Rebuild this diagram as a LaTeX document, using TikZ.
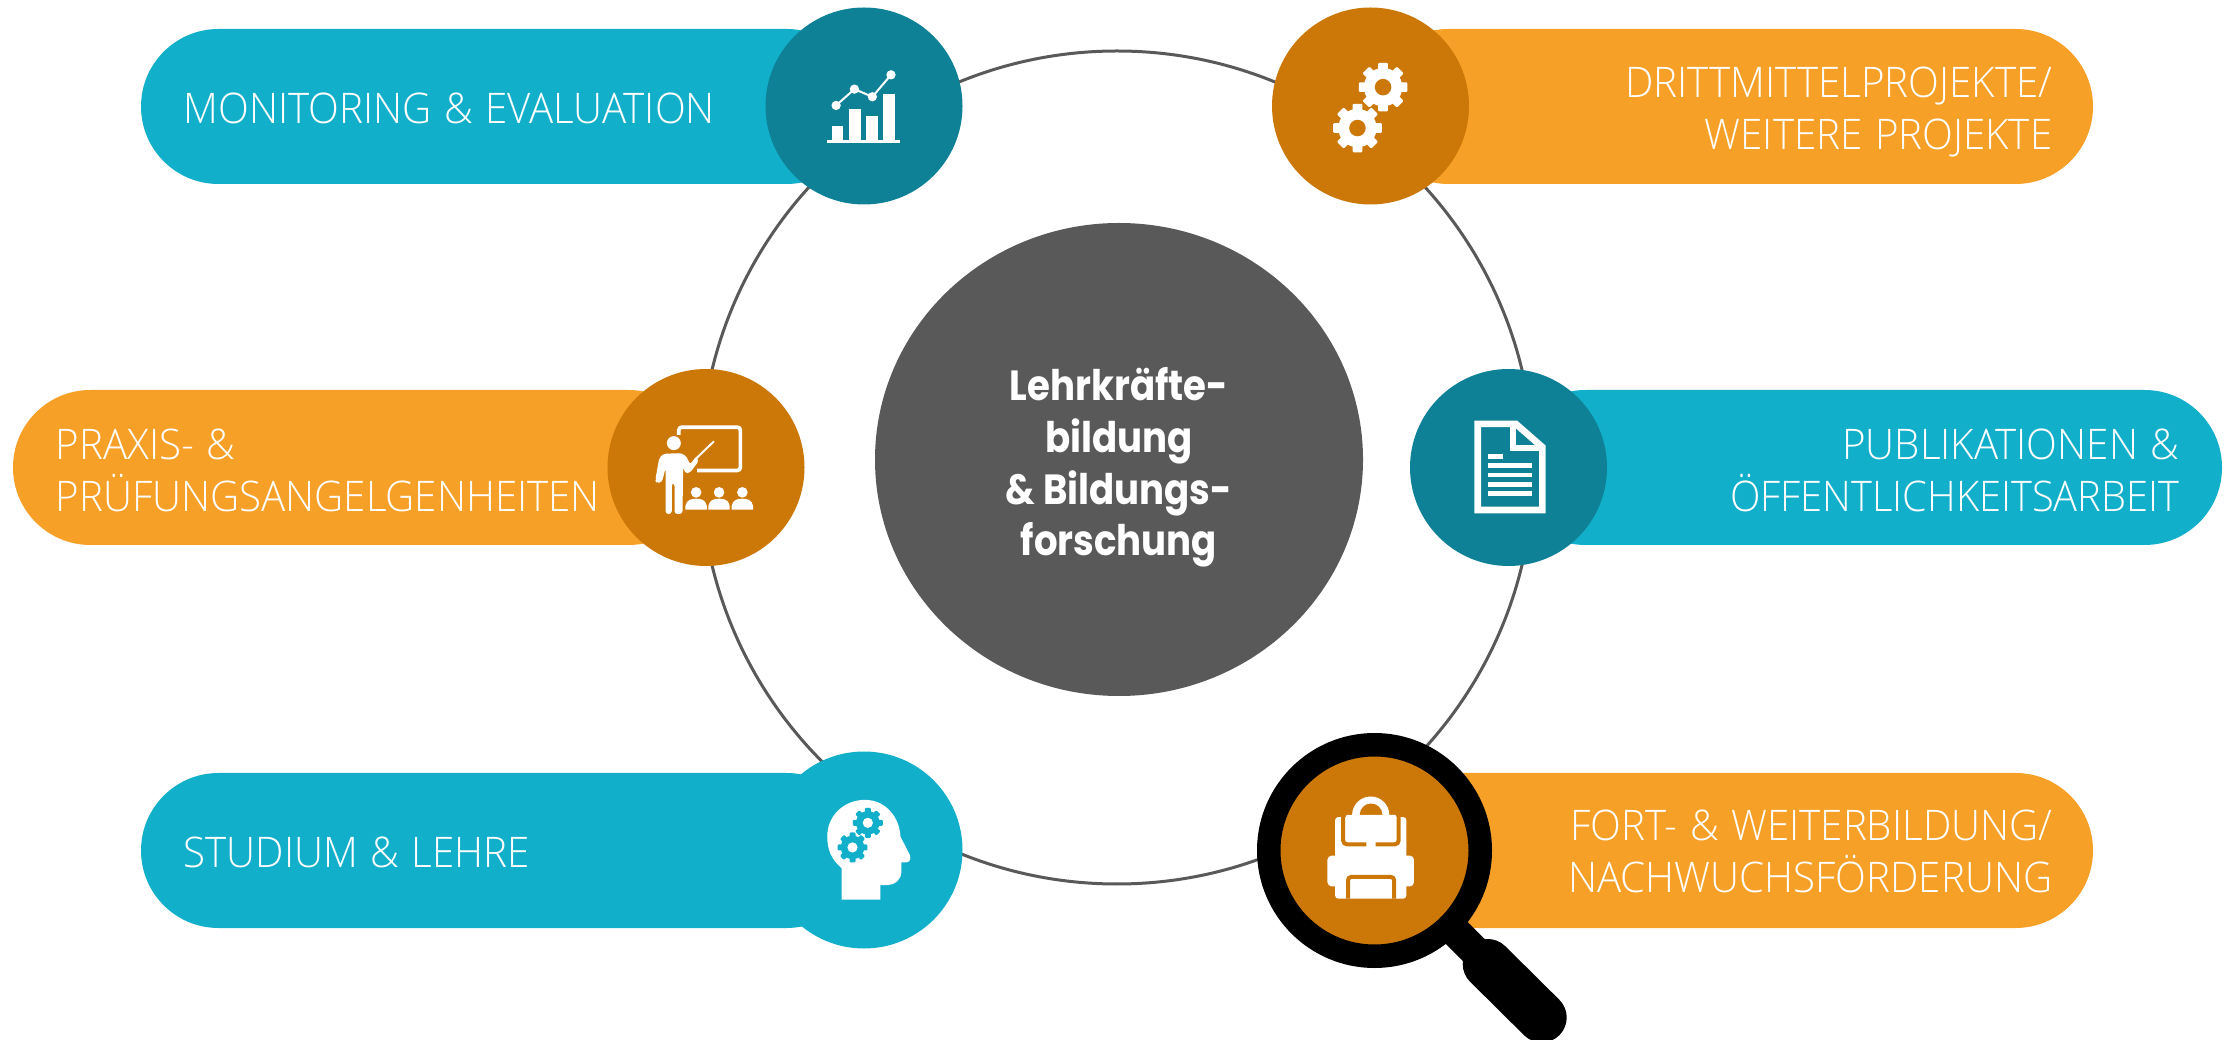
\documentclass[tikz,border=0pt]{standalone}
\usepackage{fontspec}
\usetikzlibrary{shapes.geometric}
\setmainfont{Open Sans}
\newfontfamily\labelfont{Open Sans Light}[FakeStretch=0.955,WordSpace=1.2]
\newfontfamily\labelcond{Open Sans Light}[FakeStretch=0.944]
\newfontfamily\titlefont{Poppins}[BoldFont=Poppins Bold,FakeStretch=0.88]
\definecolor{tealpill}{HTML}{12AFCA}
\definecolor{tealdark}{HTML}{0E8196}
\definecolor{orangepill}{HTML}{F6A027}
\definecolor{orangedark}{HTML}{CC7809}
\definecolor{greydark}{HTML}{595959}
\tikzset{
    pill/.style={minimum height=1.55cm,rounded corners=0.775cm,inner sep=0},
    disc/.style={circle,minimum size=1.97cm,inner sep=0},
    pilltext/.style={text=white,inner sep=0,font=\labelfont\fontsize{12}{14.8}\selectfont},
    icongrid/.style={x=0.003333cm,y=-0.003333cm},
}
\newcommand{\gearicon}[4]{%
    \foreach \a in {0,45,...,315}
        \fill[#3,shift={#1},rotate=\a,rounded corners=0.3pt] (-0.2*#2,0) rectangle (0.2*#2,#2);
    \fill[#3,shift={#1}] (0,0) circle ({0.79*#2});
    \fill[#4,shift={#1}] (0,0) circle ({0.34*#2});
}
\begin{document}
\begin{tikzpicture}
    \useasboundingbox (0,0) rectangle (22.37,-10.40);
    \clip (0,0) rectangle (22.37,-10.40);

    \node at (11.17,-4.675) [circle,minimum size=8.33cm,draw=greydark,line width=0.03cm,inner sep=0] (ring) {};

    % pills
    \node at (5.025,-1.065) [pill,fill=tealpill,minimum width=7.23cm] (monitoring) {};
    \node at (3.595,-4.675) [pill,fill=orangepill,minimum width=6.93cm] (praxis) {};
    \node at (5.025,-8.505) [pill,fill=tealpill,minimum width=7.23cm] (studium) {};
    \node at (17.32,-1.065) [pill,fill=orangepill,minimum width=7.22cm] (projekte) {};
    \node at (18.65,-4.675) [pill,fill=tealpill,minimum width=7.14cm] (publikationen) {};
    \node at (17.32,-8.505) [pill,fill=orangepill,minimum width=7.22cm] (fortbildung) {};

    \node at (1.83,-1.08) [pilltext,anchor=west] (monitoringtext) {MONITORING \& EVALUATION};
    \node at (0.55,-4.70) [pilltext,anchor=west,align=left] (praxistext) {PRAXIS- \&\\PRÜFUNGSANGELGENHEITEN};
    \node at (1.83,-8.52) [pilltext,anchor=west] (studiumtext) {STUDIUM \& LEHRE};
    \node at (20.53,-1.12) [pilltext,anchor=east,align=right] (projektetext) {DRITTMITTELPROJEKTE/\\WEITERE PROJEKTE};
    \node at (21.80,-4.70) [pilltext,anchor=east,align=right] (publikationentext) {PUBLIKATIONEN \&\\{\labelcond ÖFFENTLICHKEITSARBEIT}};
    \node at (20.53,-8.515) [pilltext,anchor=east,align=right] (fortbildungtext) {FORT- \& WEITERBILDUNG/\\NACHWUCHSFÖRDERUNG};

    % discs
    \node at (8.64,-1.06) [disc,fill=tealdark] (chart) {};
    \node at (13.705,-1.06) [disc,fill=orangedark] (gears) {};
    \node at (7.06,-4.675) [disc,fill=orangedark] (teacher) {};
    \node at (15.085,-4.675) [disc,fill=tealdark] (document) {};
    \node at (8.64,-8.50) [disc,fill=tealpill] (head) {};

    \node at (11.19,-4.595) [ellipse,minimum width=4.88cm,minimum height=4.73cm,fill=greydark,inner sep=0] (centre) {};
    \node at (11.19,-4.675) [text=white,inner sep=0,align=center,font=\titlefont\bfseries\fontsize{12}{14.7}\selectfont] (centretext) {Lehrkräfte-\\bildung\\\& Bildungs-\\forschung};

    % magnifier
    \coordinate (lenscentre) at (13.745,-8.505);
    \coordinate (gripstart) at (14.877,-9.64);
    \coordinate (gripend) at (15.417,-10.175);
    \draw[black,line width=0.31cm] (lenscentre) -- (gripstart);
    \draw[black,line width=0.5cm,line cap=round] (gripstart) -- (gripend);
    \node at (lenscentre) [circle,minimum size=2.115cm,draw=black,line width=0.235cm,fill=orangedark,inner sep=0] (lens) {};

    % chart icon
    \begin{scope}[shift={(7.4,0)},icongrid]
        \fill[white] (262,422) rectangle (480,429);
        \fill[white] (276,378) rectangle (311,424);
        \fill[white] (327,327) rectangle (363,424);
        \fill[white] (378,349) rectangle (414,424);
        \fill[white] (429,283) rectangle (465,424);
        \draw[white,line width=0.02cm] (289,317) -- (344,268) -- (398,291) -- (454,225);
        \foreach \p in {(289,317),(344,268),(398,291),(454,225)}
            \fill[white] \p circle (14);
    \end{scope}

    % gears icon
    \begin{scope}[shift={(12.6,0)},icongrid]
        \gearicon{(370,262)}{73}{white}{orangedark}
        \gearicon{(293,385)}{73}{white}{orangedark}
    \end{scope}

    % teacher icon
    \begin{scope}[shift={(6,-3.6)},icongrid]
        \draw[white,line width=0.037cm,rounded corners=0.03cm] (237,225) -- (237,202) -- (422,202) -- (422,332) -- (292,332);
        \fill[white] (222,250) circle (21);
        \fill[white,rounded corners=0.03cm] (166,362) -- (178,295) -- (190,282) -- (245,280) -- (262,292) -- (270,315) -- (288,292) -- (298,302) -- (270,340) -- (255,340) -- (250,320) -- (248,463) -- (224,463) -- (224,370) -- (216,370) -- (216,463) -- (197,463) -- (197,325) -- (186,368) -- (170,370) -- cycle;
        \draw[white,line width=0.02cm,line cap=round] (285,300) -- (342,245);
        \foreach \x in {289,358,428} {
            \fill[white] (\x,398) circle (16);
            \fill[white] (\x-32,450) -- (\x-32,438) .. controls (\x-28,420) and (\x-15,417) .. (\x,417) .. controls (\x+15,417) and (\x+28,420) .. (\x+32,438) -- (\x+32,450) -- cycle;
        }
    \end{scope}

    % document icon
    \begin{scope}[shift={(14,-3.6)},icongrid]
        \draw[white,line width=0.067cm,miter limit=2] (234,192) -- (348,192) -- (428,262) -- (428,451) -- (234,451) -- cycle;
        \draw[white,line width=0.067cm] (340,192) -- (340,265) -- (428,265);
        \fill[white] (264,282) rectangle (311,298);
        \foreach \y in {311,339,367,395}
            \fill[white] (264,\y) rectangle (396,\y+14);
    \end{scope}

    % head icon
    \begin{scope}[shift={(7.8,-7.4)},icongrid]
        \fill[white] (185,480) -- (185,385) .. controls (155,360) and (142,330) .. (142,290) .. controls (142,225) and (195,180) .. (255,180) .. controls (320,180) and (360,235) .. (362,290) -- (390,345) .. controls (395,358) and (390,368) .. (378,368) -- (365,368) -- (365,395) .. controls (365,420) and (345,436) .. (325,436) -- (302,436) -- (302,480) -- cycle;
        \gearicon{(264,249)}{45}{tealpill}{white}
        \gearicon{(218,323)}{45}{tealpill}{white}
    \end{scope}

    % backpack icon
    \begin{scope}[shift={(12.4,-7.2)},icongrid]
        \fill[white] (393,286) circle (56);
        \fill[orangedark] (360,285) arc[start angle=180,end angle=360,radius=34] -- cycle;
        \fill[white,rounded corners=0.03cm] (286,292) rectangle (500,537);
        \fill[white,rounded corners=0.04cm] (263,408) rectangle (523,500);
        \draw[orangedark,line width=0.04cm,rounded corners=0.04cm] (310,285) -- (310,374) -- (477,374) -- (477,285);
        \fill[white,rounded corners=0.02cm] (318,285) rectangle (470,300);
        \fill[white,rounded corners=0.02cm] (380,352) rectangle (408,398);
        \draw[orangedark,line width=0.04cm,rounded corners=0.03cm] (325,537) -- (325,472) -- (463,472) -- (463,537);
    \end{scope}
\end{tikzpicture}
\end{document}
